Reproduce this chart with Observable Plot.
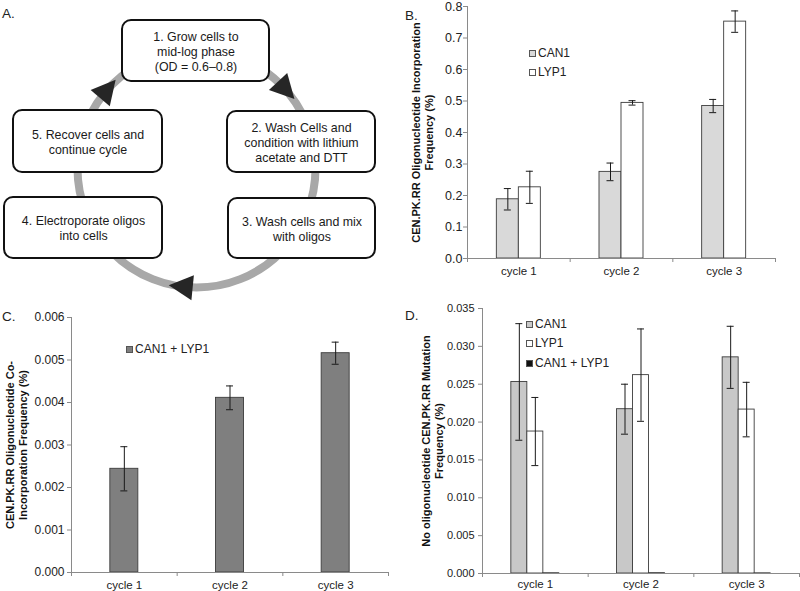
<!DOCTYPE html>
<html><head><meta charset="utf-8">
<script src="https://cdn.jsdelivr.net/npm/d3@7"></script>
<script src="https://cdn.jsdelivr.net/npm/@observablehq/plot@0.6"></script>
<style>
body{margin:0;background:#fff;}
#fig{position:relative;width:800px;height:591px;overflow:hidden;background:#fff;font-family:"Liberation Sans",Arial,sans-serif;color:#222;}
.panel{position:absolute;}
.letter{position:absolute;font-size:13.5px;line-height:1;}
.leg{position:absolute;font-size:12px;line-height:1;white-space:nowrap;display:flex;align-items:center;transform:translateY(-50%);}
.leg i{display:inline-block;width:5px;height:5px;border:1px solid #555;margin-right:2px;}
</style></head><body><div id="fig"></div>
<script>
// ---------- data ----------
const cycles = ["cycle 1", "cycle 2", "cycle 3"];

// Panel B
const seriesB = ["CAN1", "LYP1"];
const bCAN1 = [0.188, 0.275, 0.484];
const bCAN1Err = [0.034, 0.028, 0.021];
const bLYP1 = [0.226, 0.494, 0.752];
const bLYP1Err = [0.051, 0.007, 0.034];
const bTicks = [0, 0.1, 0.2, 0.3, 0.4, 0.5, 0.6, 0.7, 0.8];

// Panel C
const seriesC = ["CAN1 + LYP1"];
const cCo = [0.00244, 0.00411, 0.00516];
const cCoErr = [0.00052, 0.00028, 0.00026];
const cTicks = [0, 0.001, 0.002, 0.003, 0.004, 0.005, 0.006];

// Panel D
const seriesD = ["CAN1", "LYP1", "CAN1 + LYP1"];
const dCAN1 = [0.0253, 0.0217, 0.02855];
const dCAN1Err = [0.0077, 0.0033, 0.0041];
const dLYP1 = [0.01875, 0.0262, 0.02165];
const dLYP1Err = [0.0045, 0.0061, 0.0036];
const dCo = [0.00003, 0.00004, 0.00002];
const dCoErr = [0, 0, 0];
const dTicks = [0, 0.005, 0.010, 0.015, 0.020, 0.025, 0.030, 0.035];

// Panel A (workflow diagram)
const stepTexts = [
  "1. Grow cells to\nmid-log phase\n(OD = 0.6–0.8)",
  "2. Wash Cells and\ncondition with lithium\nacetate and DTT",
  "3. Wash cells and mix\nwith oligos",
  "4. Electroporate oligos\ninto cells",
  "5. Recover cells and\ncontinue cycle"
];
const boxLeft = [122, 227, 228, 4, 13];
const boxRight = [269, 375, 375, 162, 162];
const boxTop = [20, 111, 198, 197, 110];
const boxBottom = [81, 172, 258, 258, 172];
const ring = {cx: 196, cy: 168, r: 119};
const arrowAngles = [-43, 95.7, -140];

// ---------- helpers ----------
const fig = document.getElementById("fig");
const FONT = '"Liberation Sans", Arial, sans-serif';
const AXIS = "#8a8a8a";

// arrowhead symbol: tip points up (rotated per arrow), centroid at origin
const arrowHead = {
  draw(ctx) {
    ctx.moveTo(0, -16);
    ctx.lineTo(12.5, 8);
    ctx.lineTo(-12.5, 8);
    ctx.closePath();
  }
};

function place(node, left, top) {
  const d = document.createElement("div");
  d.className = "panel";
  d.style.left = left + "px";
  d.style.top = top + "px";
  d.appendChild(node);
  fig.appendChild(d);
}
function letter(t, left, top) {
  const d = document.createElement("div");
  d.className = "letter";
  d.textContent = t;
  d.style.left = left + "px";
  d.style.top = top + "px";
  fig.appendChild(d);
}
function legend(items, left, tops) {
  items.forEach((it, i) => {
    const d = document.createElement("div");
    d.className = "leg";
    d.style.left = left + "px";
    d.style.top = tops[i] + "px";
    const sq = document.createElement("i");
    sq.style.background = it.fill;
    d.appendChild(sq);
    d.appendChild(document.createTextNode(it.name));
    fig.appendChild(d);
  });
}

function barPanel(o) {
  const fw = o.width - o.ml - o.mr, fh = o.height - o.mt - o.mb;
  const step = fw / cycles.length;
  const n = o.series.length;
  const rows = [];
  o.series.forEach((s, k) => cycles.forEach((c, i) =>
    rows.push({cycle: c, series: s, k, value: o.values[k][i], err: o.errors[k][i]})));
  const marks = [];
  o.series.forEach((s, k) => {
    const left = step / 2 - n * o.bw / 2 + k * o.bw;
    marks.push(Plot.barY(rows.filter(r => r.k === k), {
      x: "cycle", y: "value", fill: o.fills[k], stroke: "#3c3c3c", strokeWidth: 0.9,
      insetLeft: left, insetRight: step - left - o.bw
    }));
  });
  // axes lines and tick marks
  marks.push(Plot.ruleY([0], {stroke: AXIS}));
  marks.push(Plot.ruleX([cycles[0]], {x: d => d, dx: -step / 2, stroke: AXIS}));
  marks.push(Plot.ruleY(o.ticks, {y: d => d, insetLeft: -4, insetRight: fw, stroke: AXIS}));
  marks.push(Plot.ruleX(cycles, {x: d => d, dx: -step / 2, insetTop: fh, insetBottom: -4, stroke: AXIS}));
  marks.push(Plot.ruleX([cycles[cycles.length - 1]], {x: d => d, dx: step / 2, insetTop: fh, insetBottom: -4, stroke: AXIS}));
  // axis labels
  marks.push(Plot.axisX({tickSize: 0, tickPadding: o.xPad, fontSize: o.xFont, label: null}));
  marks.push(Plot.axisY({ticks: o.ticks, tickFormat: d3.format(o.fmt), tickSize: 0, tickPadding: o.yPad, fontSize: o.yFont, label: null}));
  // error bars
  o.series.forEach((s, k) => {
    const left = step / 2 - n * o.bw / 2 + k * o.bw;
    const c = left + o.bw / 2;
    const sub = rows.filter(r => r.k === k && r.err > 0);
    marks.push(Plot.ruleX(sub, {x: "cycle", y1: d => d.value - d.err, y2: d => d.value + d.err, dx: c - step / 2, stroke: "#1a1a1a"}));
    marks.push(Plot.tickY(sub, {x: "cycle", y: d => d.value + d.err, insetLeft: c - 3.5, insetRight: step - c - 3.5, stroke: "#1a1a1a"}));
    marks.push(Plot.tickY(sub, {x: "cycle", y: d => d.value - d.err, insetLeft: c - 3.5, insetRight: step - c - 3.5, stroke: "#1a1a1a"}));
  });
  // y axis title
  marks.push(Plot.text([o.label], {
    text: d => d, frameAnchor: "left", dx: -o.labelOffset, rotate: -90,
    fontWeight: "bold", fontSize: 11, lineHeight: 1.2, textAnchor: "middle", lineAnchor: "middle", fill: "#111"
  }));
  return Plot.plot({
    width: o.width, height: o.height,
    marginLeft: o.ml, marginRight: o.mr, marginTop: o.mt, marginBottom: o.mb,
    style: {fontFamily: FONT, fontSize: "11px", overflow: "visible", background: "transparent", color: "#222"},
    x: {domain: cycles, padding: 0, round: false},
    y: {domain: [0, o.yMax]},
    marks
  });
}

// ---------- Panel A ----------
const boxes = stepTexts.map((t, i) => ({
  text: t, x1: boxLeft[i], x2: boxRight[i], y1: boxTop[i], y2: boxBottom[i],
  cx: (boxLeft[i] + boxRight[i]) / 2, cy: (boxTop[i] + boxBottom[i]) / 2
}));
const arrows = arrowAngles.map(a => ({
  x: ring.cx + ring.r * Math.cos(a * Math.PI / 180),
  y: ring.cy + ring.r * Math.sin(a * Math.PI / 180),
  rot: a + 180
}));
const panelA = Plot.plot({
  width: 400, height: 300, margin: 0,
  style: {fontFamily: FONT, overflow: "visible", background: "transparent", color: "#1a1a1a"},
  x: {domain: [0, 400], range: [0, 400], axis: null},
  y: {domain: [0, 300], range: [0, 300], axis: null},
  marks: [
    Plot.dot([ring], {x: "cx", y: "cy", r: ring.r, stroke: "#a8a8a8", strokeWidth: 8, fill: "none"}),
    Plot.dot(arrows, {x: "x", y: "y", rotate: "rot", symbol: arrowHead, r: 11, fill: "#262626", stroke: "none"}),
    Plot.rect(boxes, {x1: "x1", x2: "x2", y1: "y1", y2: "y2", rx: 9, fill: "white", stroke: "#111", strokeWidth: 2}),
    Plot.text(boxes, {x: "cx", y: "cy", text: "text", fontSize: 12.4, lineHeight: 1.2, fill: "#1a1a1a"})
  ]
});
place(panelA, 0, 0);
letter("A.", 2, 7);

// ---------- Panel B ----------
place(barPanel({
  series: seriesB, values: [bCAN1, bLYP1], errors: [bCAN1Err, bLYP1Err], fills: ["#d9d9d9", "#ffffff"],
  ticks: bTicks, fmt: ".1f", yMax: 0.8,
  width: 400, height: 300, ml: 67, mr: 25, mt: 6, mb: 42, bw: 22, xPad: 8, yPad: 5, xFont: 11.5, yFont: 12.5,
  label: "CEN.PK.RR Oligonucleotide Incorporation\nFrequency (%)", labelOffset: 45.5
}), 400, 0);
letter("B.", 405, 9);
legend([{name: seriesB[0], fill: "#d9d9d9"}, {name: seriesB[1], fill: "#ffffff"}], 529, [53, 72]);

// ---------- Panel C ----------
place(barPanel({
  series: seriesC, values: [cCo], errors: [cCoErr], fills: ["#7f7f7f"],
  ticks: cTicks, fmt: ".3f", yMax: 0.006,
  width: 400, height: 291, ml: 71, mr: 12, mt: 17, mb: 19, bw: 28, xPad: 8, yPad: 7, xFont: 11.5, yFont: 12,
  label: "CEN.PK.RR Oligonucleotide Co-\nIncorporation Frequency (%)", labelOffset: 55.5
}), 0, 300);
letter("C.", 2, 310);
legend([{name: seriesC[0], fill: "#7f7f7f"}], 126, [349]);

// ---------- Panel D ----------
place(barPanel({
  series: seriesD, values: [dCAN1, dLYP1, dCo], errors: [dCAN1Err, dLYP1Err, dCoErr], fills: ["#c8c8c8", "#ffffff", "#111111"],
  ticks: dTicks, fmt: ".3f", yMax: 0.035,
  width: 400, height: 291, ml: 82, mr: 1, mt: 8, mb: 18, bw: 16, xPad: 6, yPad: 8, xFont: 11.5, yFont: 11,
  label: "No oligonucleotide CEN.PK.RR Mutation\nFrequency (%)", labelOffset: 50.5
}), 400, 300);
letter("D.", 405, 309);
legend([{name: seriesD[0], fill: "#c8c8c8"}, {name: seriesD[1], fill: "#ffffff"}, {name: seriesD[2], fill: "#111111"}], 526, [324, 343, 363]);
</script></body></html>
